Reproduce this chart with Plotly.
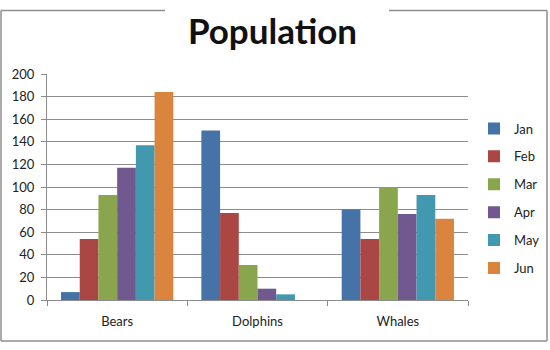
import plotly.graph_objects as go

# Animal population counts by month
animals = ["Bears", "Dolphins", "Whales"]
months = ["Jan", "Feb", "Mar", "Apr", "May", "Jun"]
jan = [7, 150, 80]
feb = [54, 77, 54]
mar = [93, 31, 100]
apr = [117, 10, 76]
may = [137, 5, 93]
jun = [184, 0, 72]
series = [jan, feb, mar, apr, may, jun]

colors = ["#4572A7", "#AA4643", "#89A54E", "#71588F", "#4198AF", "#DB843D"]

W, H = 550, 350
ML, MR, MT, MB = 47, 82, 74, 50
PW, PH = W - ML - MR, H - MT - MB


def px_x(x):
    return (x - ML) / PW


def px_y(y):
    return (H - MB - y) / PH


fig = go.Figure()
for name, vals, col in zip(months, series, colors):
    fig.add_trace(go.Bar(
        x=animals, y=vals, name=name, legendgroup=name,
        marker=dict(color=col, line=dict(width=0)),
    ))

frame = "#8e8e8e"
left, right = px_x(1), px_x(547)
top, bottom = px_y(10.5), px_y(341)
gap_l, gap_r = px_x(165), px_x(389)
segments = [
    (left, bottom, left, top),
    (left, bottom, right, bottom),
    (right, bottom, right, top),
    (left, top, gap_l, top),
    (gap_r, top, right, top),
]
shapes = [
    dict(type="line", xref="paper", yref="paper", x0=a, y0=b, x1=c, y1=d,
         line=dict(color=frame, width=1.5))
    for a, b, c, d in segments
]

fig.update_layout(
    width=W, height=H,
    margin=dict(l=ML, r=MR, t=MT, b=MB, pad=0, autoexpand=False),
    paper_bgcolor="white", plot_bgcolor="white",
    font=dict(family="Lato", size=13, color="#222222"),
    title=dict(text="<b>Population</b>", font=dict(family="Lato", size=35, color="#111111"),
               x=272.5 / W, xanchor="center", xref="container",
               y=1 - 32 / H, yanchor="middle", yref="container"),
    barmode="group", bargap=0.2, bargroupgap=0,
    showlegend=True,
    legend=dict(x=px_x(474), xanchor="left", y=px_y(198.5), yanchor="middle",
                font=dict(size=13, color="#222222"), tracegroupgap=8,
                bgcolor="rgba(0,0,0,0)", itemclick=False),
    shapes=shapes,
)

fig.update_yaxes(range=[0, 200], dtick=20, showgrid=True, gridcolor="#8c8c8c", gridwidth=1,
                 showline=True, linecolor="#8c8c8c", linewidth=1, zeroline=False,
                 ticks="outside", ticklen=5, tickcolor="#8c8c8c", ticklabelstandoff=4,
                 tickfont=dict(size=13, color="#222222"))
fig.update_xaxes(showline=True, linecolor="#8c8c8c", linewidth=1, showgrid=False,
                 ticks="outside", ticklen=5, tickcolor="#8c8c8c", tickson="boundaries",
                 ticklabelstandoff=9, tickfont=dict(size=13, color="#222222"))

fig.write_html("out.html")
